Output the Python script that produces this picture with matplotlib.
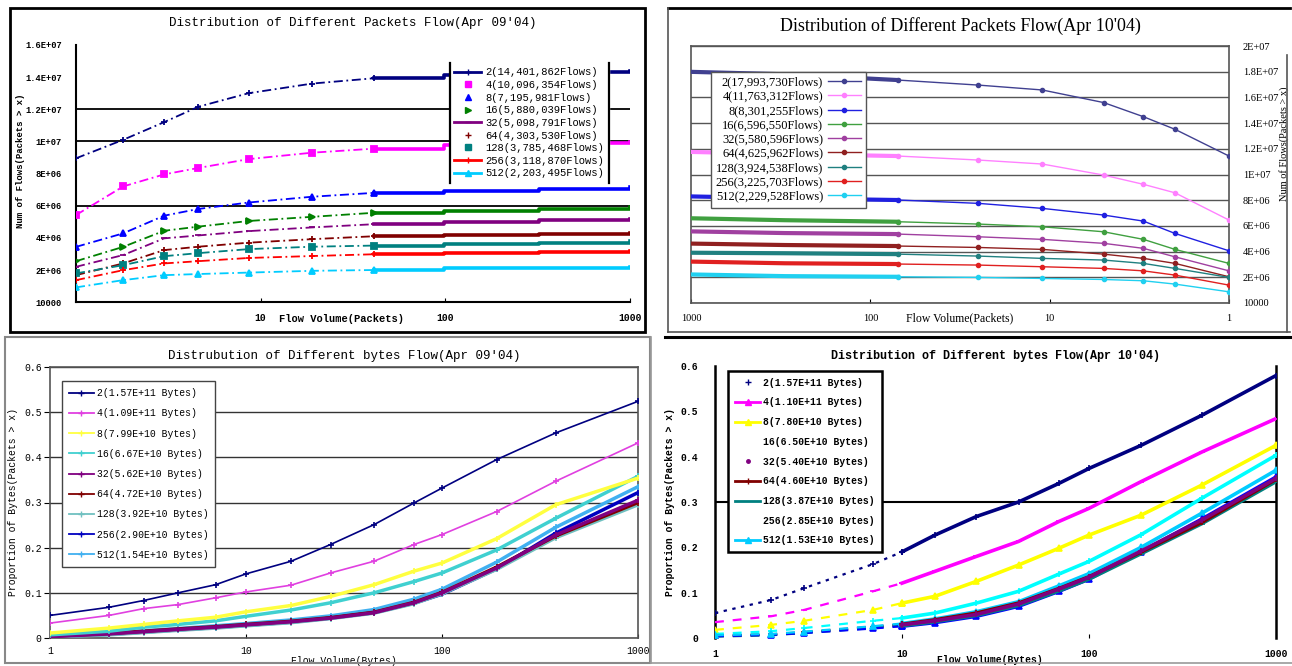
import matplotlib
matplotlib.use("Agg")
import matplotlib.pyplot as plt
from matplotlib.lines import Line2D
from matplotlib.patches import Rectangle
import numpy as np

plt.rcParams['font.family'] = ['Liberation Mono', 'DejaVu Sans']

# ---------------- data ----------------
series_keys = ["2", "4", "8", "16", "32", "64", "128", "256", "512"]

# Top-left: packets flow, Apr 09'04 (values in flows)
tl_x = [1, 1.8, 3, 4.6, 8.6, 19, 41, 98, 320, 1000]
tl_2 = [8.95e6, 10.1e6, 11.2e6, 12.16e6, 13.0e6, 13.6e6, 13.93e6, 14.13e6, 14.34e6, 14.4e6]
tl_4 = [5.42e6, 7.2e6, 7.95e6, 8.35e6, 8.9e6, 9.3e6, 9.55e6, 9.8e6, 9.92e6, 9.96e6]
tl_8 = [3.44e6, 4.28e6, 5.38e6, 5.8e6, 6.2e6, 6.56e6, 6.8e6, 6.93e6, 7.05e6, 7.14e6]
tl_16 = [2.55e6, 3.44e6, 4.44e6, 4.7e6, 5.05e6, 5.31e6, 5.56e6, 5.65e6, 5.77e6, 5.9e6]
tl_32 = [2.2e6, 2.93e6, 3.97e6, 4.15e6, 4.42e6, 4.65e6, 4.85e6, 4.97e6, 5.1e6, 5.15e6]
tl_64 = [1.68e6, 2.41e6, 3.24e6, 3.45e6, 3.7e6, 3.92e6, 4.1e6, 4.15e6, 4.21e6, 4.31e6]
tl_128 = [1.79e6, 2.3e6, 2.86e6, 3.05e6, 3.3e6, 3.45e6, 3.52e6, 3.61e6, 3.7e6, 3.82e6]
tl_256 = [1.37e6, 1.99e6, 2.41e6, 2.55e6, 2.75e6, 2.87e6, 2.98e6, 3.05e6, 3.13e6, 3.19e6]
tl_512 = [0.92e6, 1.37e6, 1.68e6, 1.75e6, 1.84e6, 1.95e6, 2.0e6, 2.1e6, 2.15e6, 2.2e6]
tl_labels = ["2(14,401,862Flows)", "4(10,096,354Flows)", "8(7,195,981Flows)",
             "16(5,880,039Flows)", "32(5,098,791Flows)", "64(4,303,530Flows)",
             "128(3,785,468Flows)", "256(3,118,870Flows)", "512(2,203,495Flows)"]
tl_yticks = [1e4, 2e6, 4e6, 6e6, 8e6, 1e7, 1.2e7, 1.4e7, 1.6e7]
tl_yticklabels = ["10000", "2E+06", "4E+06", "6E+06", "8E+06", "1E+07", "1.2E+07", "1.4E+07", "1.6E+07"]
tl_grid = [6e6, 1e7, 1.2e7]

# Top-right: packets flow, Apr 10'04
tr_x = [1000, 300, 70, 25, 11, 5, 3, 2, 1]
tr_2 = [17.99e6, 17.8e6, 17.35e6, 16.96e6, 16.58e6, 15.6e6, 14.5e6, 13.52e6, 11.44e6]
tr_4 = [11.76e6, 11.6e6, 11.44e6, 11.13e6, 10.82e6, 9.96e6, 9.24e6, 8.58e6, 6.46e6]
tr_8 = [8.30e6, 8.15e6, 8.02e6, 7.76e6, 7.37e6, 6.85e6, 6.38e6, 5.42e6, 4.07e6]
tr_16 = [6.60e6, 6.45e6, 6.33e6, 6.15e6, 5.94e6, 5.55e6, 4.96e6, 4.18e6, 3.09e6]
tr_32 = [5.58e6, 5.45e6, 5.37e6, 5.16e6, 4.96e6, 4.65e6, 4.26e6, 3.6e6, 2.51e6]
tr_64 = [4.63e6, 4.52e6, 4.44e6, 4.33e6, 4.18e6, 3.81e6, 3.48e6, 3.09e6, 2.05e6]
tr_128 = [3.92e6, 3.88e6, 3.81e6, 3.66e6, 3.48e6, 3.35e6, 3.09e6, 2.7e6, 2.0e6]
tr_256 = [3.23e6, 3.1e6, 3.04e6, 2.96e6, 2.83e6, 2.7e6, 2.51e6, 2.18e6, 1.4e6]
tr_512 = [2.23e6, 2.1e6, 2.05e6, 2.0e6, 1.92e6, 1.84e6, 1.74e6, 1.48e6, 0.88e6]
tr_labels = ["2(17,993,730Flows)", "4(11,763,312Flows)", "8(8,301,255Flows)",
             "16(6,596,550Flows)", "32(5,580,596Flows)", "64(4,625,962Flows)",
             "128(3,924,538Flows)", "256(3,225,703Flows)", "512(2,229,528Flows)"]
tr_yticks = [1e4, 2e6, 4e6, 6e6, 8e6, 1e7, 1.2e7, 1.4e7, 1.6e7, 1.8e7, 2e7]
tr_yticklabels = ["10000", "2E+06", "4E+06", "6E+06", "8E+06", "1E+07", "1.2E+07",
                  "1.4E+07", "1.6E+07", "1.8E+07", "2E+07"]

# Bottom-left: bytes flow, Apr 09'04 (proportion)
bl_x = [1, 2, 3, 4.5, 7, 10, 17, 27, 45, 72, 100, 190, 380, 1000]
bl_2 = [0.050, 0.068, 0.083, 0.100, 0.118, 0.142, 0.170, 0.207, 0.251, 0.299, 0.332, 0.395, 0.454, 0.524]
bl_4 = [0.033, 0.050, 0.065, 0.074, 0.089, 0.102, 0.117, 0.144, 0.170, 0.207, 0.229, 0.280, 0.347, 0.432]
bl_8 = [0.011, 0.022, 0.030, 0.038, 0.046, 0.058, 0.072, 0.092, 0.118, 0.148, 0.166, 0.220, 0.295, 0.354]
bl_16 = [0.007, 0.015, 0.024, 0.030, 0.038, 0.048, 0.062, 0.078, 0.100, 0.125, 0.144, 0.195, 0.265, 0.358]
bl_32 = [0.003, 0.009, 0.014, 0.019, 0.024, 0.029, 0.036, 0.044, 0.056, 0.078, 0.100, 0.155, 0.228, 0.305]
bl_64 = [0.004, 0.010, 0.015, 0.020, 0.025, 0.030, 0.037, 0.045, 0.057, 0.079, 0.101, 0.157, 0.226, 0.300]
bl_128 = [0.002, 0.007, 0.012, 0.017, 0.022, 0.027, 0.034, 0.043, 0.055, 0.076, 0.098, 0.152, 0.222, 0.295]
bl_256 = [0.003, 0.008, 0.013, 0.018, 0.023, 0.028, 0.035, 0.044, 0.056, 0.077, 0.097, 0.153, 0.232, 0.322]
bl_512 = [0.005, 0.011, 0.016, 0.021, 0.027, 0.032, 0.040, 0.049, 0.063, 0.086, 0.108, 0.168, 0.245, 0.335]
bl_labels = ["2(1.57E+11 Bytes)", "4(1.09E+11 Bytes)", "8(7.99E+10 Bytes)",
             "16(6.67E+10 Bytes)", "32(5.62E+10 Bytes)", "64(4.72E+10 Bytes)",
             "128(3.92E+10 Bytes)", "256(2.90E+10 Bytes)", "512(1.54E+10 Bytes)"]

# Bottom-right: bytes flow, Apr 10'04
br_x = [1, 2, 3, 7, 10, 15, 25, 42, 69, 100, 190, 400, 1000]
br_2 = [0.055, 0.084, 0.110, 0.163, 0.190, 0.227, 0.268, 0.300, 0.341, 0.374, 0.425, 0.491, 0.579]
br_4 = [0.035, 0.048, 0.062, 0.103, 0.121, 0.147, 0.180, 0.213, 0.257, 0.286, 0.345, 0.410, 0.484]
br_8 = [0.018, 0.029, 0.038, 0.062, 0.077, 0.092, 0.125, 0.161, 0.198, 0.227, 0.271, 0.337, 0.425]
br_16 = [0.009, 0.015, 0.022, 0.038, 0.044, 0.055, 0.077, 0.103, 0.141, 0.169, 0.228, 0.308, 0.403]
br_32 = [0.004, 0.007, 0.012, 0.024, 0.029, 0.038, 0.052, 0.075, 0.108, 0.134, 0.192, 0.260, 0.352]
br_64 = [0.005, 0.008, 0.013, 0.025, 0.030, 0.040, 0.055, 0.077, 0.109, 0.135, 0.190, 0.255, 0.350]
br_128 = [0.003, 0.006, 0.011, 0.022, 0.027, 0.036, 0.050, 0.072, 0.104, 0.130, 0.186, 0.252, 0.345]
br_256 = [0.004, 0.007, 0.011, 0.021, 0.026, 0.034, 0.048, 0.070, 0.103, 0.130, 0.190, 0.262, 0.355]
br_512 = [0.006, 0.009, 0.014, 0.026, 0.032, 0.042, 0.058, 0.080, 0.115, 0.142, 0.200, 0.275, 0.370]
br_labels = ["2(1.57E+11 Bytes)", "4(1.10E+11 Bytes)", "8(7.80E+10 Bytes)",
             "16(6.50E+10 Bytes)", "32(5.40E+10 Bytes)", "64(4.60E+10 Bytes)",
             "128(3.87E+10 Bytes)", "256(2.85E+10 Bytes)", "512(1.53E+10 Bytes)"]

prop_ticks = [0, 0.1, 0.2, 0.3, 0.4, 0.5, 0.6]
prop_ticklabels = ["0", "0.1", "0.2", "0.3", "0.4", "0.5", "0.6"]
log_ticks = [1, 10, 100, 1000]
log_ticklabels = ["1", "10", "100", "1000"]

# ---------------- styles ----------------
pk_colors = ["#000080", "#FF00FF", "#0000FF", "#008000", "#800080", "#800000", "#008080", "#FF0000", "#00CCFF"]
tr_colors = ["#404090", "#FF80FF", "#2020E0", "#40A040", "#A040A0", "#902020", "#208080", "#E02020", "#20D0F0"]
bl_colors = ["#000080", "#E040E0", "#FFFF40", "#40D0D0", "#800080", "#800000", "#70C0C0", "#0000C0", "#40B0F0"]
br_colors = ["#000080", "#FF00FF", "#FFFF00", "#00FFFF", "#800080", "#800000", "#008080", "#0000FF", "#00CCFF"]
markers = ["+", "s", "^", ">", "_", "+", "s", "+", "^"]

W, H = 1292, 666
fig = plt.figure(figsize=(W / 100, H / 100), dpi=100)


def fx(px):
    return px / W


def fy(py):
    return 1 - py / H


def axes_px(x0, y0, x1, y1):
    return fig.add_axes([fx(x0), fy(y1), fx(x1 - x0), (y1 - y0) / H])


def border(x0, y0, x1, y1, color="black", lw=2):
    fig.add_artist(Rectangle((fx(x0), fy(y1)), fx(x1 - x0), (y1 - y0) / H,
                             transform=fig.transFigure, fill=False, ec=color, lw=lw))


def split_plot(ax, xs, ys, color, marker, split, thin=1.4, thick=3.0, dash=(0, (4, 3))):
    xs = np.asarray(xs, float)
    ys = np.asarray(ys, float)
    lo = xs <= split
    hi = xs >= split
    ax.plot(xs[lo], ys[lo], color=color, lw=thin, ls=dash, marker=marker, ms=5, mew=1.3, zorder=3)
    ax.plot(xs[hi], ys[hi], color=color, lw=thick, ls="-", drawstyle="steps-post", zorder=3)


# ================= Top-left =================
border(10, 8, 645, 332, lw=2)
ax1 = axes_px(76, 45, 630, 302)
tl_data = [tl_2, tl_4, tl_8, tl_16, tl_32, tl_64, tl_128, tl_256, tl_512]
for ys, c, m in zip(tl_data, pk_colors, markers):
    split_plot(ax1, tl_x, ys, c, m, 41, thin=1.3, thick=2.6, dash=(0, (5, 2, 1, 2)))
for g in tl_grid:
    ax1.axhline(g, color="black", lw=1.3, zorder=1)
ax1.set_xscale("log")
ax1.set_xlim(1, 1000)
ax1.set_ylim(1e4, 1.6e7)
ax1.set_yticks(tl_yticks)
ax1.set_yticklabels(tl_yticklabels, fontsize=6.3, fontweight="bold")
ax1.set_xticks([10, 100, 1000])
ax1.set_xticklabels(["10", "100", "1000"], fontsize=7, fontweight="bold")
ax1.xaxis.set_minor_locator(matplotlib.ticker.NullLocator())
ax1.tick_params(axis="y", length=0, pad=10)
ax1.tick_params(axis="x", length=3, direction="in", pad=8)
for s in ["top", "right"]:
    ax1.spines[s].set_visible(False)
for s in ["left", "bottom"]:
    ax1.spines[s].set_linewidth(1.5)
ax1.set_ylabel("Num of Flows(Packets > x)", fontsize=6.5, fontweight="bold", labelpad=2)
ax1.yaxis.set_label_coords(-0.092, 0.55)
ax1.text(0.48, -0.066, "Flow Volume(Packets)", transform=ax1.transAxes, ha="center",
         va="center", fontsize=7.5, fontweight="bold")
ax1.set_title("Distribution of Different Packets Flow(Apr 09'04)", fontsize=9, pad=14)
h1 = [Line2D([], [], color=c, lw=(2 if i in (0, 4, 7, 8) else 0), marker=m, ms=4)
      for i, (c, m) in enumerate(zip(pk_colors, markers))]
leg1 = ax1.legend(h1, tl_labels, loc="upper left", bbox_to_anchor=(0.665, 0.95),
                  fontsize=7.6, frameon=True, fancybox=False, edgecolor="white",
                  framealpha=1, handlelength=2.6, labelspacing=0.25, borderpad=0.4,
                  handletextpad=0.4)
leg1.set_zorder(5)

# ================= Top-right =================
fig.add_artist(Line2D([fx(668), fx(1290)], [fy(8), fy(8)], color="black", lw=2))
fig.add_artist(Line2D([fx(668), fx(668)], [fy(8), fy(332)], color="#555555", lw=1.2))
fig.add_artist(Line2D([fx(668), fx(1290)], [fy(332), fy(332)], color="#555555", lw=1.2))
fig.add_artist(Line2D([fx(1287), fx(1287)], [fy(55), fy(332)], color="#555555", lw=1.2))
ax2 = axes_px(691, 46, 1229, 303)
tr_data = [tr_2, tr_4, tr_8, tr_16, tr_32, tr_64, tr_128, tr_256, tr_512]
for ys, c in zip(tr_data, tr_colors):
    xs = np.asarray(tr_x, float)
    ys = np.asarray(ys, float)
    hi = xs >= 70
    lo = xs <= 70
    ax2.plot(xs[hi], ys[hi], color=c, lw=3.0, zorder=3)
    ax2.plot(xs[lo], ys[lo], color=c, lw=1.0, marker="o", ms=3, zorder=3)
ax2.set_xscale("log")
ax2.set_xlim(1000, 1)
ax2.set_ylim(1e4, 2e7)
ax2.set_yticks(tr_yticks)
ax2.set_yticklabels(tr_yticklabels, fontsize=7.5, family="Liberation Serif")
ax2.yaxis.tick_right()
ax2.yaxis.set_label_position("right")
ax2.set_xticks(log_ticks)
ax2.set_xticklabels(log_ticklabels, fontsize=7.5, family="Liberation Serif")
ax2.xaxis.set_minor_locator(matplotlib.ticker.NullLocator())
ax2.tick_params(axis="y", length=0, pad=10)
ax2.tick_params(axis="x", length=3, direction="in", pad=8)
ax2.grid(axis="y", color="#555555", lw=1.0)
for s in ax2.spines.values():
    s.set_color("#555555")
    s.set_linewidth(1.2)
ax2.set_ylabel("Num of Flows(Packets > x)", fontsize=7.5, family="Liberation Serif", labelpad=4)
ax2.yaxis.set_label_coords(1.093, 0.62)
ax2.text(0.5, -0.058, "Flow Volume(Packets)", transform=ax2.transAxes, ha="center",
         va="center", fontsize=8.5, family="Liberation Serif")
ax2.set_title("Distribution of Different Packets Flow(Apr 10'04)", fontsize=13,
              family="Liberation Serif", pad=11)
h2 = [Line2D([], [], color=c, lw=1, marker="o", ms=3) for c in tr_colors]
leg2 = ax2.legend(h2, tr_labels, loc="upper left", bbox_to_anchor=(0.025, 0.925),
                  frameon=True, fancybox=False, edgecolor="#555555",
                  framealpha=1, markerfirst=False, handlelength=2.6, labelspacing=0.18,
                  borderpad=0.4, handletextpad=0.4,
                  prop={"family": "Liberation Serif", "size": 9})
leg2.set_zorder(5)

# ================= Bottom-left =================
border(5, 337, 650, 663, color="#888888", lw=1.5)
ax3 = axes_px(50, 367, 638, 638)
bl_data = [bl_2, bl_4, bl_8, bl_16, bl_32, bl_64, bl_128, bl_256, bl_512]
for i, (ys, c) in enumerate(zip(bl_data, bl_colors)):
    lw = 1.2 if i < 2 else 2.5
    ax3.plot(bl_x, ys, color=c, lw=lw, marker="+", ms=5, mew=1.2, zorder=3 + (9 - i) * 0.01)
ax3.set_xscale("log")
ax3.set_xlim(1, 1000)
ax3.set_ylim(0, 0.6)
ax3.set_yticks(prop_ticks)
ax3.set_yticklabels(prop_ticklabels, fontsize=7)
ax3.set_xticks(log_ticks)
ax3.set_xticklabels(log_ticklabels, fontsize=7)
ax3.xaxis.set_minor_locator(matplotlib.ticker.NullLocator())
ax3.tick_params(axis="y", length=4, direction="out", pad=2)
ax3.tick_params(axis="x", length=3, direction="in", pad=6)
ax3.grid(axis="y", color="#333333", lw=1.0)
for s in ax3.spines.values():
    s.set_color("#555555")
    s.set_linewidth(1.2)
ax3.set_ylabel("Proportion of Bytes(Packets > x)", fontsize=7, labelpad=4)
ax3.text(0.5, -0.065, "Flow Volume(Bytes)", transform=ax3.transAxes, ha="center",
         va="top", fontsize=7)
ax3.set_title("Distrubution of Different bytes Flow(Apr 09'04)", fontsize=9, pad=6)
h3 = [Line2D([], [], color=c, lw=1.3, marker="+", ms=5) for c in bl_colors]
leg3 = ax3.legend(h3, bl_labels, loc="upper left", bbox_to_anchor=(0.012, 0.965),
                  fontsize=7, frameon=True, fancybox=False, edgecolor="#444444",
                  framealpha=1, handlelength=2.6, labelspacing=1.05, borderpad=0.7,
                  handletextpad=0.3)
leg3.set_zorder(5)

# ================= Bottom-right =================
fig.add_artist(Line2D([fx(665), fx(1292)], [fy(337), fy(337)], color="black", lw=2.2))
fig.add_artist(Line2D([fx(651), fx(651)], [fy(337), fy(663)], color="#999999", lw=1.2))
fig.add_artist(Line2D([fx(651), fx(1292)], [fy(663), fy(663)], color="#999999", lw=1.2))
ax4 = axes_px(715, 366, 1276, 638)
br_data = [br_2, br_4, br_8, br_16, br_32, br_64, br_128, br_256, br_512]
br_markers = ["+", "_", "^", "+", "+", "+", "_", "^", "^"]
for i, (ys, c, m) in enumerate(zip(br_data, br_colors, br_markers)):
    xs = np.asarray(br_x, float)
    ys = np.asarray(ys, float)
    lo = xs <= 10
    hi = xs >= 10
    ax4.plot(xs[lo], ys[lo], color=c, lw=1.6, ls=(0, (4, 4)) if i != 0 else (0, (1.5, 2.5)),
             marker=m, ms=5, mew=1.2, zorder=3)
    ax4.plot(xs[hi], ys[hi], color=c, lw=2.6, marker=m, ms=5, mew=1.2, zorder=3 + (9 - i) * 0.01)
ax4.set_xscale("log")
ax4.set_xlim(1, 1000)
ax4.set_ylim(0, 0.6)
ax4.set_yticks(prop_ticks)
ax4.set_yticklabels(prop_ticklabels, fontsize=7, fontweight="bold")
ax4.set_xticks(log_ticks)
ax4.set_xticklabels(log_ticklabels, fontsize=7, fontweight="bold")
ax4.xaxis.set_minor_locator(matplotlib.ticker.NullLocator())
ax4.tick_params(axis="y", length=0, pad=12)
ax4.tick_params(axis="x", length=3, direction="in", pad=8)
ax4.axhline(0.3, color="black", lw=1.5, zorder=1)
ax4.spines["top"].set_visible(False)
ax4.spines["bottom"].set_visible(False)
ax4.spines["left"].set_linewidth(1.8)
ax4.spines["right"].set_linewidth(1.8)
ax4.set_ylabel("Proportion of Bytes(Packets > x)", fontsize=7, fontweight="bold", labelpad=4)
ax4.text(0.49, -0.062, "Flow Volume(Bytes)", transform=ax4.transAxes, ha="center",
         va="top", fontsize=7, fontweight="bold")
ax4.set_title("Distribution of Different bytes Flow(Apr 10'04)", fontsize=8.5,
              fontweight="bold", pad=5)
br_leg_lw = [0, 2, 2, 0, 0, 2, 2, 0, 2]
br_leg_mk = ["+", "^", "^", "", ".", "+", "", "", "^"]
h4 = [Line2D([], [], color=c, lw=lw, marker=m, ms=5) for c, lw, m in zip(br_colors, br_leg_lw, br_leg_mk)]
leg4 = ax4.legend(h4, br_labels, loc="upper left", bbox_to_anchor=(0.015, 1.0),
                  frameon=True, fancybox=False, edgecolor="black",
                  framealpha=1, handlelength=2.6, labelspacing=1.0, borderpad=0.7,
                  handletextpad=0.3, prop={"weight": "bold", "size": 7})
leg4.get_frame().set_linewidth(1.8)
leg4.set_zorder(5)

# vertical edges of top-left legend box
fig.canvas.draw()
bb = leg1.get_window_extent().transformed(fig.transFigure.inverted())
for xv in (bb.x0, bb.x1):
    fig.add_artist(Line2D([xv, xv], [bb.y0, bb.y1], color="black", lw=1.6, zorder=10))

fig.savefig("out.png", dpi=100)
